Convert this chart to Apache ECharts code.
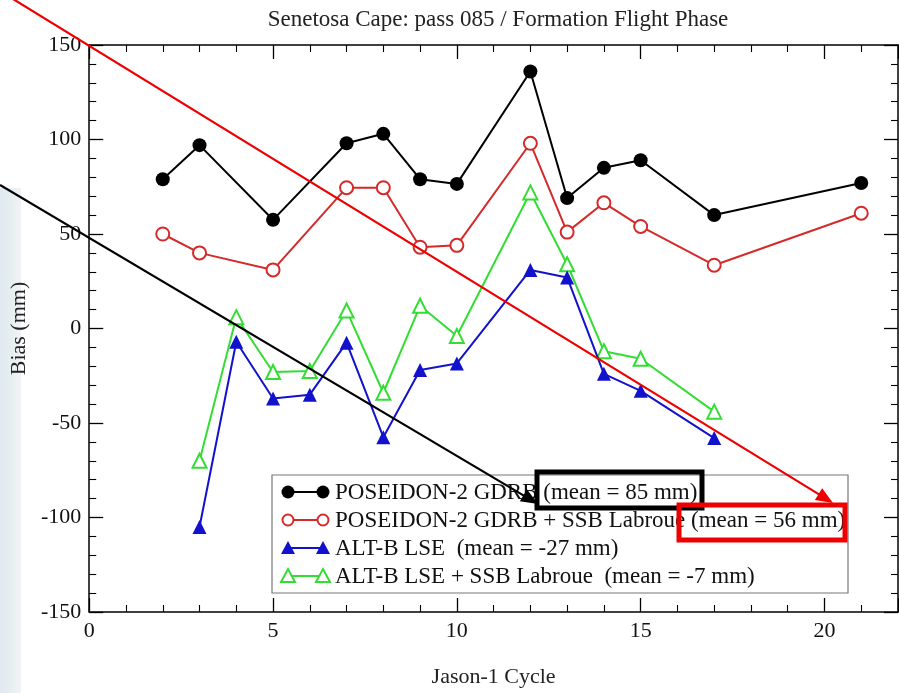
<!DOCTYPE html>
<html><head><meta charset="utf-8">
<script src="https://cdn.jsdelivr.net/npm/echarts@6/dist/echarts.min.js"></script>
<style>html,body{margin:0;padding:0;background:#fff}#c{width:899px;height:693px}</style>
</head><body><div id="c"></div>
<script>
const titleText = 'Senetosa Cape: pass 085 / Formation Flight Phase';
const xName = 'Jason-1 Cycle';
const yName = 'Bias (mm)';

const posCycles = [2, 3, 5, 7, 8, 9, 10, 12, 13, 14, 15, 17, 21];
const posGdrb   = [79, 97, 57.5, 98, 103, 79, 76.5, 136, 69, 85, 89, 60, 77];
const posSsb    = [50, 40, 31, 74.5, 74.5, 43, 44, 98, 51, 66.5, 54, 33.5, 61];

const altCycles = [3, 4, 5, 6, 7, 8, 9, 10, 12, 13, 14, 15, 17];
const altLse    = [-105, -7, -37, -35, -7.5, -57.5, -22, -18.5, 31, 27, -24, -33, -58];
const altLseSsb = [-70, 6, -23, -22.5, 9.5, -34, 12, -4, 72, 34, -12, -16, -44];

const seriesNames = ['POSEIDON-2 GDRB', 'POSEIDON-2 GDRB + SSB Labroue', 'ALT-B LSE ', 'ALT-B LSE + SSB Labroue '];
const meanTexts   = ['(mean = 85 mm)', '(mean = 56 mm)', '(mean = -27 mm)', '(mean = -7 mm)'];

const FONT = '"Liberation Serif", "DejaVu Serif", serif';
const colors = ['#000000', '#d42a2a', '#1212cc', '#33dd33'];

function pairs(xs, ys) { return xs.map((x, i) => [x, ys[i]]); }

const chart = echarts.init(document.getElementById('c'));

function axisCommon(extra) {
  return Object.assign({
    axisLine: { show: true, onZero: false, lineStyle: { color: '#000', width: 1.5 } },
    axisTick: { show: true, inside: true, length: 14, lineStyle: { color: '#000', width: 1.3 } },
    minorTick: { show: true, splitNumber: 5, length: 7, lineStyle: { color: '#000', width: 1.1 } },
    splitLine: { show: false },
    minorSplitLine: { show: false }
  }, extra);
}

const seriesDefs = [
  { data: pairs(posCycles, posGdrb), symbol: 'circle', size: 14, hollow: false },
  { data: pairs(posCycles, posSsb), symbol: 'circle', size: 13, hollow: true },
  { data: pairs(altCycles, altLse), symbol: 'triangle', size: 14, hollow: false },
  { data: pairs(altCycles, altLseSsb), symbol: 'triangle', size: 14, hollow: true }
];

const series = seriesDefs.map((d, i) => ({
  type: 'line',
  name: seriesNames[i],
  data: d.data,
  symbol: d.symbol,
  symbolSize: d.size,
  showAllSymbol: true,
  animation: false,
  lineStyle: { color: colors[i], width: 2 },
  itemStyle: d.hollow ? { color: '#fff', borderColor: colors[i], borderWidth: 2 } : { color: colors[i], borderColor: colors[i], borderWidth: 0 },
  z: 3 + (4 - i)
}));

// legend drawn as graphic
const legendX = 272, legendY = 475, legendW = 576, legendH = 118;
const rowY = [492, 520, 548, 576];
const legendEls = [{
  type: 'rect', shape: { x: legendX, y: legendY, width: legendW, height: legendH },
  style: { fill: '#fff', stroke: '#777', lineWidth: 1.2 }, z: 20
}];
seriesDefs.forEach((d, i) => {
  const y = rowY[i];
  legendEls.push({ type: 'line', shape: { x1: 288, y1: y, x2: 323, y2: y }, style: { stroke: colors[i], lineWidth: 2 }, z: 21 });
  [288, 323].forEach(cx => {
    if (d.symbol === 'circle') {
      legendEls.push({ type: 'circle', shape: { cx: cx, cy: y, r: d.hollow ? 5.5 : 6.5 },
        style: d.hollow ? { fill: '#fff', stroke: colors[i], lineWidth: 2 } : { fill: colors[i] }, z: 22 });
    } else {
      legendEls.push({ type: 'polygon', shape: { points: [[cx, y - 7], [cx + 7, y + 6], [cx - 7, y + 6]] },
        style: d.hollow ? { fill: '#fff', stroke: colors[i], lineWidth: 2 } : { fill: colors[i] }, z: 22 });
    }
  });
  legendEls.push({ type: 'text', x: 335, y: y + 1, style: {
    text: seriesNames[i] + ' ' + meanTexts[i], font: '23px ' + FONT, fill: '#111', verticalAlign: 'middle', align: 'left' }, z: 22 });
});

// annotation arrows and boxes
function arrow(x1, y1, x2, y2, color) {
  const dx = x2 - x1, dy = y2 - y1, L = Math.hypot(dx, dy);
  const ux = dx / L, uy = dy / L, hl = 17, hw = 7;
  const bx = x2 - ux * hl, by = y2 - uy * hl;
  return [
    { type: 'line', shape: { x1: x1, y1: y1, x2: bx + ux * 2, y2: by + uy * 2 }, style: { stroke: color, lineWidth: 2.2 }, z: 30 },
    { type: 'polygon', shape: { points: [[x2, y2], [bx - uy * hw, by + ux * hw], [bx + uy * hw, by - ux * hw]] }, style: { fill: color }, z: 30 }
  ];
}
const annotEls = [].concat(
  arrow(0, -9, 833, 503, '#ee0000'),
  arrow(0, 185, 538, 504, '#000000'),
  [
    { type: 'rect', shape: { x: 537, y: 472, width: 165, height: 36 }, style: { fill: 'none', stroke: '#000', lineWidth: 5 }, z: 31 },
    { type: 'rect', shape: { x: 679, y: 505, width: 166, height: 35 }, style: { fill: 'none', stroke: '#ee0000', lineWidth: 5 }, z: 31 }
  ]
);

const bgEls = [{
  type: 'rect', shape: { x: 0, y: 188, width: 21, height: 505 },
  style: { fill: new echarts.graphic.LinearGradient(0, 0, 1, 0, [{ offset: 0, color: '#e0e9ef' }, { offset: 1, color: '#eef3f6' }]) }, z: -1
}];

chart.setOption({
  backgroundColor: '#fff',
  animation: false,
  title: {
    text: titleText, left: 493, top: 3, textAlign: 'center',
    textStyle: { fontFamily: FONT, fontSize: 23, fontWeight: 'normal', color: '#222' }
  },
  grid: { left: 89, right: 1, top: 45, bottom: 80 },
  xAxis: [
    axisCommon({ type: 'value', position: 'bottom', min: 0, max: 22, interval: 5,
      name: xName, nameLocation: 'middle', nameGap: 54,
      nameTextStyle: { fontFamily: FONT, fontSize: 22, color: '#222' },
      axisLabel: { fontFamily: FONT, fontSize: 22, color: '#111', margin: 8, showMaxLabel: false } }),
    axisCommon({ type: 'value', position: 'top', min: 0, max: 22, interval: 5, axisLabel: { show: false } })
  ],
  yAxis: [
    axisCommon({ type: 'value', position: 'left', min: -150, max: 150, interval: 50,
      name: yName, nameLocation: 'middle', nameGap: 55,
      nameTextStyle: { fontFamily: FONT, fontSize: 22, color: '#222' },
      axisLabel: { fontFamily: FONT, fontSize: 22, color: '#111', margin: 8 } }),
    axisCommon({ type: 'value', position: 'right', min: -150, max: 150, interval: 50, axisLabel: { show: false } })
  ],
  series: series,
  graphic: bgEls.concat(legendEls, annotEls)
});
</script>
</body></html>
